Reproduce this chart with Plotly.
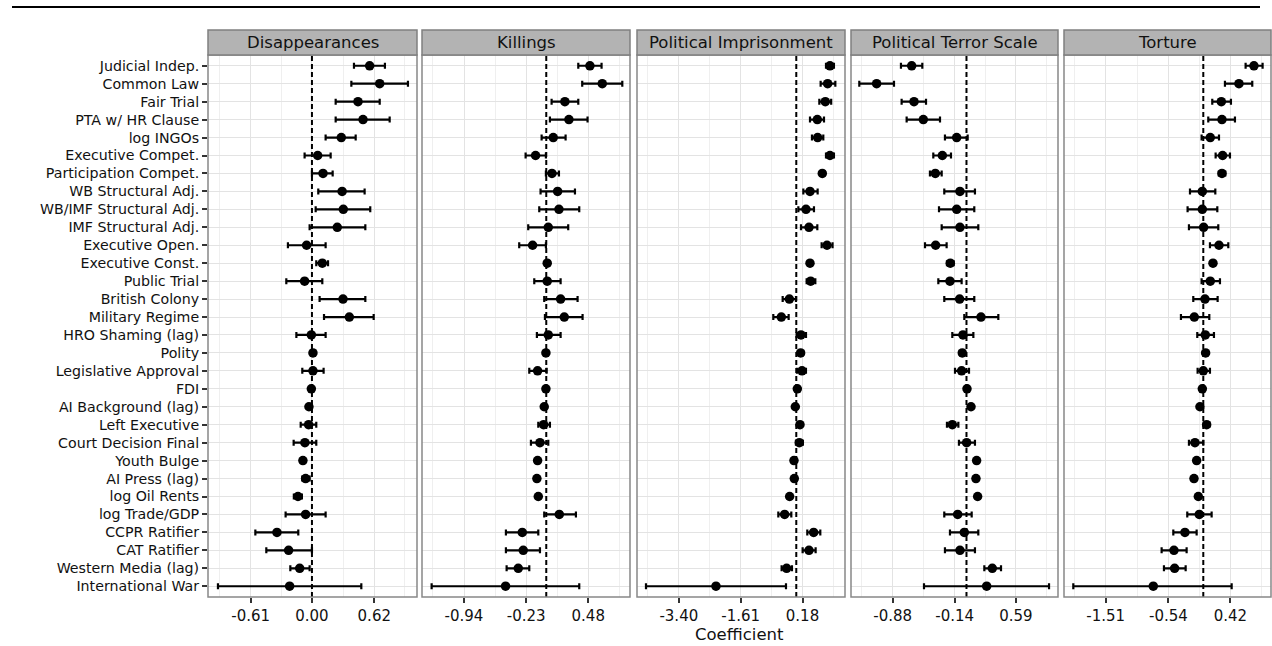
import plotly.graph_objects as go

W, H = 1272, 646

categories = ["Judicial Indep.", "Common Law", "Fair Trial", "PTA w/ HR Clause", "log INGOs",
              "Executive Compet.", "Participation Compet.", "WB Structural Adj.",
              "WB/IMF Structural Adj.", "IMF Structural Adj.", "Executive Open.",
              "Executive Const.", "Public Trial", "British Colony", "Military Regime",
              "HRO Shaming (lag)", "Polity", "Legislative Approval", "FDI",
              "AI Background (lag)", "Left Executive", "Court Decision Final", "Youth Bulge",
              "AI Press (lag)", "log Oil Rents", "log Trade/GDP", "CCPR Ratifier",
              "CAT Ratifier", "Western Media (lag)", "International War"]

panels = ["Disappearances", "Killings", "Political Imprisonment", "Political Terror Scale", "Torture"]

# Disappearances
dis_est = [0.574, 0.674, 0.458, 0.508, 0.292, 0.057, 0.110, 0.300, 0.312, 0.252, -0.053, 0.103,
           -0.073, 0.309, 0.372, -0.006, 0.010, 0.010, -0.006, -0.030, -0.033, -0.070, -0.090,
           -0.063, -0.139, -0.063, -0.348, -0.232, -0.122, -0.222]
dis_lo = [0.418, 0.392, 0.236, 0.236, 0.136, -0.073, 0.000, 0.063, 0.037, -0.023, -0.239, 0.043,
          -0.255, 0.076, 0.120, -0.155, 0.000, -0.096, -0.016, -0.045, -0.112, -0.182, -0.105,
          -0.096, -0.180, -0.262, -0.563, -0.454, -0.215, -0.935]
dis_hi = [0.726, 0.955, 0.674, 0.773, 0.435, 0.186, 0.206, 0.524, 0.580, 0.531, 0.136, 0.160,
          0.103, 0.531, 0.614, 0.136, 0.020, 0.116, 0.004, -0.015, 0.043, 0.043, -0.075,
          -0.023, -0.100, 0.136, -0.136, 0.000, -0.023, 0.491]

# Killings
kil_est = [0.499, 0.640, 0.213, 0.259, 0.080, -0.122, 0.065, 0.130, 0.145, 0.023, -0.156, 0.011,
           0.011, 0.164, 0.206, 0.023, -0.004, -0.099, -0.004, -0.023, -0.030, -0.072, -0.099,
           -0.107, -0.091, 0.149, -0.274, -0.263, -0.320, -0.465]
kil_lo = [0.366, 0.411, 0.061, 0.042, -0.053, -0.236, -0.004, -0.065, -0.080, -0.206, -0.309,
          -0.015, -0.137, -0.023, -0.015, -0.107, -0.014, -0.194, -0.014, -0.040, -0.091, -0.175,
          -0.112, -0.120, -0.105, -0.023, -0.461, -0.461, -0.453, -1.310]
kil_hi = [0.632, 0.869, 0.366, 0.472, 0.221, -0.004, 0.145, 0.328, 0.377, 0.251, -0.004, 0.037,
          0.164, 0.358, 0.415, 0.164, 0.006, 0.004, 0.006, -0.006, 0.042, 0.023, -0.086,
          -0.094, -0.077, 0.339, -0.091, -0.072, -0.194, 0.377]

# Political Imprisonment
imp_est = [0.975, 0.908, 0.840, 0.609, 0.618, 0.975, 0.753, 0.397, 0.281, 0.368, 0.889, 0.397,
           0.416, -0.200, -0.433, 0.136, 0.126, 0.165, 0.030, -0.028, 0.107, 0.088, -0.067,
           -0.057, -0.192, -0.337, 0.503, 0.368, -0.279, -2.324]
imp_lo = [0.860, 0.705, 0.667, 0.397, 0.454, 0.860, 0.700, 0.204, 0.060, 0.136, 0.734, 0.340,
          0.300, -0.394, -0.665, 0.010, 0.050, 0.020, -0.020, -0.080, 0.050, -0.010, -0.110,
          -0.100, -0.240, -0.520, 0.319, 0.184, -0.424, -4.350]
imp_hi = [1.090, 1.130, 1.010, 0.802, 0.782, 1.090, 0.810, 0.618, 0.512, 0.609, 1.050, 0.450,
          0.551, -0.009, -0.221, 0.281, 0.200, 0.280, 0.080, 0.020, 0.160, 0.190, -0.020,
          -0.010, -0.140, -0.144, 0.695, 0.560, -0.125, -0.298]

# Political Terror Scale
pts_est = [-0.654, -1.072, -0.626, -0.515, -0.117, -0.288, -0.372, -0.078, -0.117, -0.078, -0.368,
           -0.193, -0.197, -0.082, 0.173, -0.042, -0.050, -0.058, 0.006, 0.054, -0.169, 0.002,
           0.121, 0.113, 0.133, -0.105, -0.026, -0.078, 0.308, 0.241]
pts_lo = [-0.782, -1.279, -0.774, -0.714, -0.257, -0.396, -0.436, -0.265, -0.328, -0.296, -0.495,
          -0.233, -0.336, -0.265, -0.026, -0.169, -0.080, -0.137, -0.010, 0.040, -0.233, -0.090,
          0.105, 0.097, 0.117, -0.265, -0.197, -0.257, 0.213, -0.507]
pts_hi = [-0.527, -0.865, -0.483, -0.316, 0.014, -0.185, -0.296, 0.101, 0.093, 0.141, -0.237,
          -0.153, -0.058, 0.093, 0.380, 0.082, -0.020, 0.030, 0.022, 0.068, -0.097, 0.101,
          0.137, 0.129, 0.149, 0.062, 0.141, 0.101, 0.412, 0.985]

# Torture
tor_est = [0.784, 0.552, 0.279, 0.289, 0.108, 0.299, 0.289, -0.015, -0.015, 0.005, 0.243, 0.150,
           0.108, 0.026, -0.139, 0.031, 0.036, 0.000, -0.015, -0.052, 0.052, -0.129, -0.103,
           -0.144, -0.077, -0.062, -0.284, -0.454, -0.444, -0.774]
tor_lo = [0.655, 0.335, 0.139, 0.077, -0.026, 0.191, 0.240, -0.206, -0.243, -0.222, 0.103, 0.125,
          -0.026, -0.155, -0.346, -0.093, 0.020, -0.088, -0.030, -0.068, 0.010, -0.222, -0.118,
          -0.160, -0.093, -0.248, -0.464, -0.645, -0.609, -2.012]
tor_hi = [0.918, 0.758, 0.428, 0.490, 0.243, 0.413, 0.340, 0.186, 0.217, 0.232, 0.387, 0.175,
          0.258, 0.222, 0.093, 0.165, 0.052, 0.103, 0.000, -0.036, 0.094, 0.000, -0.088,
          -0.128, -0.061, 0.129, -0.103, -0.258, -0.273, 0.439]

tick_vals = [[-0.61, 0.00, 0.62], [-0.94, -0.23, 0.48], [-3.40, -1.61, 0.18],
             [-0.88, -0.14, 0.59], [-1.51, -0.54, 0.42]]
x_ranges = [[-1.034, 1.045], [-1.42, 0.957], [-4.61, 1.41], [-1.378, 1.092], [-2.156, 1.048]]

series = [(dis_est, dis_lo, dis_hi), (kil_est, kil_lo, kil_hi), (imp_est, imp_lo, imp_hi),
          (pts_est, pts_lo, pts_hi), (tor_est, tor_lo, tor_hi)]

# panel pixel boxes
px_left = [208, 422, 637, 851, 1064]
px_right = [417, 630, 845, 1058, 1271]
py_top, py_bot = 55, 597
strip_top = 30

fig = go.Figure()
layout = dict(width=W, height=H, margin=dict(l=0, r=0, t=0, b=0),
              paper_bgcolor="white", plot_bgcolor="white", showlegend=False,
              font=dict(family="DejaVu Sans", color="#111111"))
shapes = []
annotations = []
ydom = [1 - py_bot / H, 1 - py_top / H]

for i in range(5):
    ax = "" if i == 0 else str(i + 1)
    est, lo, hi = series[i]
    plus = [h - e for h, e in zip(hi, est)]
    minus = [e - l for e, l in zip(est, lo)]
    fig.add_trace(go.Scatter(
        x=est, y=categories, mode="markers", xaxis="x" + ax, yaxis="y" + ax,
        marker=dict(color="black", size=9.5),
        error_x=dict(type="data", symmetric=False, array=plus, arrayminus=minus,
                     color="black", thickness=2.2, width=3),
        cliponaxis=False))
    tv = tick_vals[i]
    step = tv[1] - tv[0]
    minor_vals = [tv[0] - step / 2, (tv[0] + tv[1]) / 2, (tv[1] + tv[2]) / 2, tv[2] + step / 2]
    layout["xaxis" + ax] = dict(
        domain=[px_left[i] / W, px_right[i] / W], range=x_ranges[i], anchor="y" + ax,
        tickmode="array", tickvals=tv, ticktext=["%.2f" % v for v in tv],
        ticks="outside", ticklen=5, tickwidth=2, tickcolor="#333333",
        tickfont=dict(size=15, color="#111111"),
        showgrid=True, gridcolor="#e3e3e3", gridwidth=1,
        minor=dict(tickmode="array", tickvals=minor_vals, showgrid=True,
                   gridcolor="#efefef", gridwidth=1, ticks=""),
        zeroline=False, showline=False, fixedrange=True)
    layout["yaxis" + ax] = dict(
        domain=ydom, anchor="x" + ax, type="category",
        categoryorder="array", categoryarray=categories,
        range=[len(categories) - 0.4, -0.6],
        showticklabels=(i == 0), ticks="outside" if i == 0 else "",
        ticklen=5, tickwidth=2, tickcolor="#333333",
        tickfont=dict(size=14.2, color="#111111"),
        showgrid=True, gridcolor="#e3e3e3", gridwidth=1,
        zeroline=False, showline=False, fixedrange=True)
    if i > 0:
        layout["yaxis" + ax]["matches"] = "y"
    # zero dashed line
    shapes.append(dict(type="line", xref="x" + ax, yref="y" + ax + " domain",
                       x0=0, x1=0, y0=0, y1=1,
                       line=dict(color="black", width=2, dash="5px,3px"), layer="above"))
    # panel border
    shapes.append(dict(type="rect", xref="paper", yref="paper",
                       x0=px_left[i] / W, x1=px_right[i] / W, y0=ydom[0], y1=ydom[1],
                       line=dict(color="#888888", width=1.5), fillcolor="rgba(0,0,0,0)",
                       layer="above"))
    # strip
    shapes.append(dict(type="rect", xref="paper", yref="paper",
                       x0=px_left[i] / W, x1=px_right[i] / W,
                       y0=1 - py_top / H, y1=1 - strip_top / H,
                       line=dict(color="#808080", width=1.5), fillcolor="#b3b3b3",
                       layer="above"))
    annotations.append(dict(text=panels[i], xref="paper", yref="paper",
                            x=(px_left[i] + px_right[i]) / 2 / W,
                            y=1 - (strip_top + py_top) / 2 / H,
                            showarrow=False, xanchor="center", yanchor="middle",
                            font=dict(size=16.5, color="#111111")))

# top rule line
shapes.append(dict(type="line", xref="paper", yref="paper", x0=12 / W, x1=1260 / W,
                   y0=1 - 7 / H, y1=1 - 7 / H, line=dict(color="black", width=2)))
annotations.append(dict(text="Coefficient", xref="paper", yref="paper",
                        x=(px_left[0] + px_right[-1]) / 2 / W, y=1 - 645.5 / H,
                        showarrow=False, xanchor="center", yanchor="bottom",
                        font=dict(size=16.5, color="#111111")))

layout["shapes"] = shapes
layout["annotations"] = annotations
fig.update_layout(**layout)
fig.write_html("out.html")
